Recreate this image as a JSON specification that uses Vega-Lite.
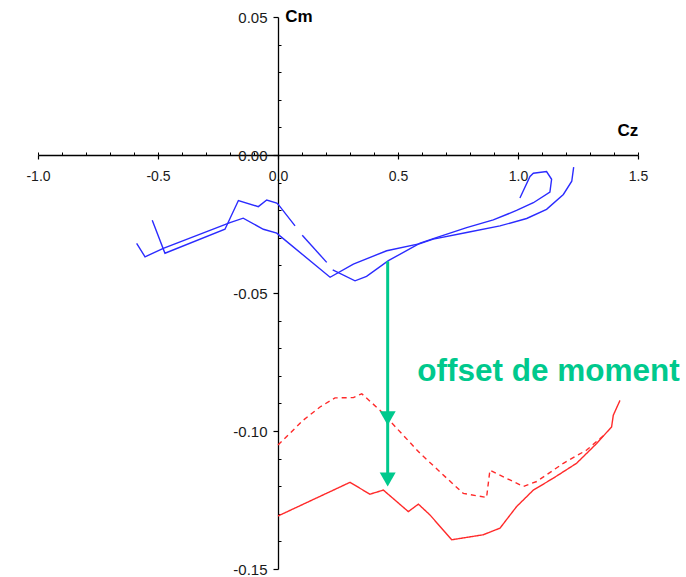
{
  "$schema": "https://vega.github.io/schema/vega-lite/v6.json",
  "width": 600,
  "height": 552,
  "autosize": {"type": "none"},
  "padding": {"left": 38, "top": 17, "right": 48, "bottom": 8},
  "background": "white",
  "config": {"view": {"stroke": null}, "font": "Liberation Sans", "axis": {"grid": false}},
  "datasets": {
    "blue": [
      {"seg": "a", "i": 1, "cz": -0.589, "cm": -0.032},
      {"seg": "a", "i": 2, "cz": -0.554, "cm": -0.0369},
      {"seg": "a", "i": 3, "cz": -0.478, "cm": -0.0338},
      {"seg": "a", "i": 4, "cz": -0.2, "cm": -0.0245},
      {"seg": "a", "i": 5, "cz": -0.145, "cm": -0.0229},
      {"seg": "a", "i": 6, "cz": -0.061, "cm": -0.0269},
      {"seg": "a", "i": 7, "cz": -0.005, "cm": -0.0283},
      {"seg": "a", "i": 8, "cz": 0.008, "cm": -0.0293},
      {"seg": "a", "i": 9, "cz": 0.217, "cm": -0.0443},
      {"seg": "a", "i": 10, "cz": 0.314, "cm": -0.0395},
      {"seg": "a", "i": 11, "cz": 0.453, "cm": -0.0347},
      {"seg": "a", "i": 12, "cz": 0.592, "cm": -0.0321},
      {"seg": "a", "i": 13, "cz": 0.647, "cm": -0.0305},
      {"seg": "a", "i": 14, "cz": 0.786, "cm": -0.0281},
      {"seg": "a", "i": 15, "cz": 0.925, "cm": -0.0257},
      {"seg": "a", "i": 16, "cz": 1.036, "cm": -0.023},
      {"seg": "a", "i": 17, "cz": 1.119, "cm": -0.0197},
      {"seg": "a", "i": 18, "cz": 1.189, "cm": -0.0143},
      {"seg": "a", "i": 19, "cz": 1.224, "cm": -0.0095},
      {"seg": "a", "i": 20, "cz": 1.232, "cm": -0.0044},
      {"seg": "b", "i": 1, "cz": -0.524, "cm": -0.0236},
      {"seg": "b", "i": 2, "cz": -0.471, "cm": -0.0356},
      {"seg": "b", "i": 3, "cz": -0.221, "cm": -0.0269},
      {"seg": "b", "i": 4, "cz": -0.165, "cm": -0.0165},
      {"seg": "b", "i": 5, "cz": -0.082, "cm": -0.0187},
      {"seg": "b", "i": 6, "cz": -0.047, "cm": -0.0163},
      {"seg": "b", "i": 7, "cz": -0.005, "cm": -0.0174},
      {"seg": "b", "i": 8, "cz": 0.001, "cm": -0.0179},
      {"seg": "b", "i": 9, "cz": 0.071, "cm": -0.0257},
      {"seg": "c", "i": 1, "cz": 0.101, "cm": -0.0291},
      {"seg": "c", "i": 2, "cz": 0.203, "cm": -0.0389},
      {"seg": "d", "i": 1, "cz": 0.228, "cm": -0.0416},
      {"seg": "d", "i": 2, "cz": 0.321, "cm": -0.0456},
      {"seg": "d", "i": 3, "cz": 0.369, "cm": -0.044},
      {"seg": "d", "i": 4, "cz": 0.46, "cm": -0.0383},
      {"seg": "d", "i": 5, "cz": 0.592, "cm": -0.0319},
      {"seg": "d", "i": 6, "cz": 0.647, "cm": -0.0303},
      {"seg": "d", "i": 7, "cz": 0.786, "cm": -0.0263},
      {"seg": "d", "i": 8, "cz": 0.897, "cm": -0.0235},
      {"seg": "d", "i": 9, "cz": 0.994, "cm": -0.0201},
      {"seg": "d", "i": 10, "cz": 1.064, "cm": -0.0173},
      {"seg": "d", "i": 11, "cz": 1.133, "cm": -0.0134},
      {"seg": "d", "i": 12, "cz": 1.14, "cm": -0.0088},
      {"seg": "d", "i": 13, "cz": 1.119, "cm": -0.006},
      {"seg": "d", "i": 14, "cz": 1.064, "cm": -0.0066},
      {"seg": "d", "i": 15, "cz": 1.05, "cm": -0.0078},
      {"seg": "d", "i": 16, "cz": 1.008, "cm": -0.0156}
    ],
    "red": [
      {"style": "solid", "i": 1, "cz": 0.0, "cm": -0.1308},
      {"style": "solid", "i": 2, "cz": 0.3, "cm": -0.1186},
      {"style": "solid", "i": 3, "cz": 0.383, "cm": -0.1229},
      {"style": "solid", "i": 4, "cz": 0.439, "cm": -0.1214},
      {"style": "solid", "i": 5, "cz": 0.543, "cm": -0.1292},
      {"style": "solid", "i": 6, "cz": 0.585, "cm": -0.1265},
      {"style": "solid", "i": 7, "cz": 0.633, "cm": -0.1304},
      {"style": "solid", "i": 8, "cz": 0.724, "cm": -0.1394},
      {"style": "solid", "i": 9, "cz": 0.855, "cm": -0.1376},
      {"style": "solid", "i": 10, "cz": 0.925, "cm": -0.1352},
      {"style": "solid", "i": 11, "cz": 0.994, "cm": -0.1274},
      {"style": "solid", "i": 12, "cz": 1.064, "cm": -0.1214},
      {"style": "solid", "i": 13, "cz": 1.147, "cm": -0.1171},
      {"style": "solid", "i": 14, "cz": 1.244, "cm": -0.1117},
      {"style": "solid", "i": 15, "cz": 1.328, "cm": -0.1045},
      {"style": "solid", "i": 16, "cz": 1.39, "cm": -0.0985},
      {"style": "solid", "i": 17, "cz": 1.397, "cm": -0.0943},
      {"style": "solid", "i": 18, "cz": 1.425, "cm": -0.0889},
      {"style": "dashed", "i": 1, "cz": 0.0, "cm": -0.1051},
      {"style": "dashed", "i": 2, "cz": 0.105, "cm": -0.0961},
      {"style": "dashed", "i": 3, "cz": 0.175, "cm": -0.0913},
      {"style": "dashed", "i": 4, "cz": 0.2375, "cm": -0.088},
      {"style": "dashed", "i": 5, "cz": 0.314, "cm": -0.0879},
      {"style": "dashed", "i": 6, "cz": 0.349, "cm": -0.0865},
      {"style": "dashed", "i": 7, "cz": 0.425, "cm": -0.0925},
      {"style": "dashed", "i": 8, "cz": 0.592, "cm": -0.1081},
      {"style": "dashed", "i": 9, "cz": 0.703, "cm": -0.1171},
      {"style": "dashed", "i": 10, "cz": 0.772, "cm": -0.1226},
      {"style": "dashed", "i": 11, "cz": 0.869, "cm": -0.1241},
      {"style": "dashed", "i": 12, "cz": 0.883, "cm": -0.1142},
      {"style": "dashed", "i": 13, "cz": 1.022, "cm": -0.1201},
      {"style": "dashed", "i": 14, "cz": 1.078, "cm": -0.1183},
      {"style": "dashed", "i": 15, "cz": 1.189, "cm": -0.1117},
      {"style": "dashed", "i": 16, "cz": 1.286, "cm": -0.1069},
      {"style": "dashed", "i": 17, "cz": 1.3625, "cm": -0.1012}
    ],
    "shaft": [
      {"cz": 0.457, "from": -0.0385, "to": -0.117}
    ],
    "heads": [
      {"cz": 0.457, "cm": -0.0979},
      {"cz": 0.457, "cm": -0.1201}
    ],
    "notes": [
      {"cz": 1.127, "cm": -0.0818, "text": "offset de moment"}
    ],
    "titles": [
      {"cz": 1.458, "cm": 0.0088, "text": "Cz"},
      {"cz": 0.0875, "cm": 0.05, "text": "Cm"}
    ]
  },
  "layer": [
    {
      "data": {"name": "blue"},
      "mark": {"type": "line", "color": "#2b2bff", "strokeWidth": 1.4},
      "encoding": {
        "x": {
          "field": "cz", "type": "quantitative",
          "scale": {"domain": [-1, 1.5], "nice": false, "zero": false},
          "axis": {
            "orient": "bottom", "offset": -414, "title": null,
            "values": [-1, -0.5, 0, 0.5, 1, 1.5],
            "labelExpr": "replace(format(datum.value, '.1f'), '\u2212', '-')",
            "tickSize": 4, "tickWidth": 1.2, "tickColor": "#000",
            "domainColor": "#000", "domainWidth": 1.3,
            "labelFontSize": 14, "labelColor": "#1a1a1a", "labelPadding": 10,
            "labelFlush": false, "labelOverlap": false, "grid": false
          }
        },
        "y": {
          "field": "cm", "type": "quantitative",
          "scale": {"domain": [-0.15, 0.05], "nice": false, "zero": false},
          "axis": {
            "orient": "left", "offset": -240, "title": null,
            "values": [-0.15, -0.1, -0.05, 0, 0.05],
            "labelExpr": "replace(format(datum.value, '.2f'), '\u2212', '-')",
            "tickSize": 5, "tickWidth": 1.2, "tickColor": "#000",
            "domainColor": "#000", "domainWidth": 1.3,
            "labelFontSize": 15, "labelColor": "#1a1a1a", "labelPadding": 6,
            "labelFlush": false, "labelOverlap": false, "grid": false
          }
        },
        "detail": {"field": "seg"},
        "order": {"field": "i", "type": "quantitative"}
      }
    },
    {
      "data": {"name": "red"},
      "mark": {"type": "line", "color": "#ff2a2a", "strokeWidth": 1.4},
      "encoding": {
        "x": {
          "field": "cz", "type": "quantitative",
          "scale": {"domain": [-1, 1.5], "nice": false, "zero": false},
          "axis": {
            "orient": "bottom", "offset": -414, "title": null,
            "values": [-1, -0.9, -0.8, -0.7, -0.6, -0.5, -0.4, -0.3, -0.2, -0.1, 0, 0.1, 0.2, 0.3, 0.4, 0.5, 0.6, 0.7, 0.8, 0.9, 1, 1.1, 1.2, 1.3, 1.4, 1.5],
            "labels": false, "domain": false, "grid": false,
            "tickSize": -3, "tickWidth": 1, "tickColor": "#000"
          }
        },
        "y": {
          "field": "cm", "type": "quantitative",
          "scale": {"domain": [-0.15, 0.05], "nice": false, "zero": false},
          "axis": {
            "orient": "left", "offset": -240, "title": null,
            "values": [-0.14, -0.13, -0.12, -0.11, -0.09, -0.08, -0.07, -0.06, -0.04, -0.03, -0.02, -0.01, 0.01, 0.02, 0.03, 0.04],
            "labels": false, "domain": false, "grid": false,
            "tickSize": -3, "tickWidth": 1, "tickColor": "#000"
          }
        },
        "detail": {"field": "style"},
        "strokeDash": {
          "field": "style", "type": "nominal",
          "scale": {"domain": ["solid", "dashed"], "range": [[1, 0], [5, 4]]},
          "legend": null
        },
        "order": {"field": "i", "type": "quantitative"}
      }
    },
    {
      "data": {"name": "shaft"},
      "mark": {"type": "rule", "color": "#00c98d", "strokeWidth": 3},
      "encoding": {
        "x": {"field": "cz", "type": "quantitative", "axis": null},
        "y": {"field": "from", "type": "quantitative", "axis": null},
        "y2": {"field": "to"}
      }
    },
    {
      "data": {"name": "heads"},
      "mark": {"type": "point", "shape": "triangle-down", "filled": true, "size": 256, "color": "#00c98d", "opacity": 1, "yOffset": -7},
      "encoding": {
        "x": {"field": "cz", "type": "quantitative", "axis": null},
        "y": {"field": "cm", "type": "quantitative", "axis": null}
      }
    },
    {
      "data": {"name": "notes"},
      "mark": {"type": "text", "color": "#00c98d", "font": "Liberation Sans", "fontWeight": "bold", "fontSize": 31.5, "align": "center", "baseline": "alphabetic"},
      "encoding": {
        "x": {"field": "cz", "type": "quantitative", "axis": null},
        "y": {"field": "cm", "type": "quantitative", "axis": null},
        "text": {"field": "text"}
      }
    },
    {
      "data": {"name": "titles"},
      "mark": {"type": "text", "color": "#000", "font": "Liberation Sans", "fontWeight": "bold", "fontSize": 17, "align": "center", "baseline": "middle"},
      "encoding": {
        "x": {"field": "cz", "type": "quantitative", "axis": null},
        "y": {"field": "cm", "type": "quantitative", "axis": null},
        "text": {"field": "text"}
      }
    }
  ],
  "resolve": {"axis": {"x": "independent", "y": "independent"}}
}
